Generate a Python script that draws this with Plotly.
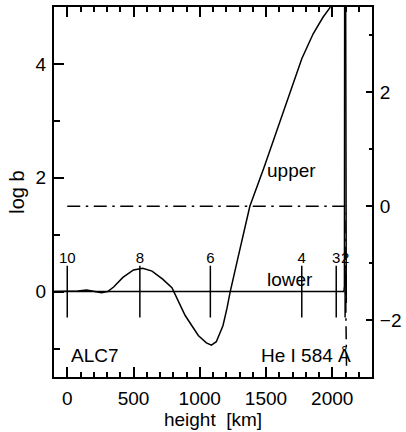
import plotly.graph_objects as go

# ---- data ----
upper_h = [-100, 0, 80, 146, 200, 258, 305, 350, 420, 500, 570, 640, 720, 790,
           890, 989, 1050, 1088, 1125, 1175, 1205, 1230, 1286, 1361, 1378, 1485,
           1608, 1683, 1770, 1856, 1930, 1980, 2040, 2100, 2106]
upper_b = [0.0, 0.0, 0.01, 0.03, 0.01, -0.02, 0.0, 0.08, 0.25, 0.38, 0.41, 0.36,
           0.22, 0.07, -0.42, -0.77, -0.9, -0.94, -0.88, -0.6, -0.3, 0.0, 0.57,
           1.32, 1.5, 2.18, 2.99, 3.51, 4.09, 4.53, 4.82, 4.98, 5.3, 6.5, -0.2]

lower_h = [-100, 2088, 2092, 2094]
lower_b = [0.0, 0.0, 0.1, 6.5]

ratio_h = [0, 2094, 2108]
ratio_v = [0.0, 0.0, -2.9]

tau_labels = ["10", "8", "6", "4", "3", "2"]
tau_h = [0, 548, 1080, 1770, 2030, 2097]
tau_bar_y = [0, 0, 0, 0, 0, 0]
tau_label_y = [0.57, 0.57, 0.57, 0.57, 0.57, 0.57]

FONT = "Liberation Sans, Arial, Helvetica, sans-serif"
BLACK = "#000000"

fig = go.Figure()

fig.add_trace(go.Scatter(x=upper_h, y=upper_b, mode="lines",
                         line=dict(color=BLACK, width=1.5), name="upper",
                         showlegend=False))
fig.add_trace(go.Scatter(x=lower_h, y=lower_b, mode="lines",
                         line=dict(color=BLACK, width=1.5), name="lower",
                         showlegend=False))
fig.add_trace(go.Scatter(x=ratio_h, y=ratio_v, mode="lines", yaxis="y2",
                         line=dict(color=BLACK, width=1.5,
                                   dash="13px,5.5px,2.5px,5.5px"),
                         name="ratio", showlegend=False))
fig.add_trace(go.Scatter(x=tau_h, y=tau_bar_y, mode="markers",
                         marker=dict(symbol="line-ns-open", size=37,
                                     color=BLACK,
                                     line=dict(color=BLACK, width=1.5)),
                         showlegend=False, hoverinfo="x"))
fig.add_trace(go.Scatter(x=tau_h, y=tau_label_y, mode="text", text=tau_labels,
                         textfont=dict(family=FONT, size=15, color=BLACK),
                         showlegend=False, hoverinfo="skip"))

annots = [
    dict(x=1494, y=2.12, text="upper", xanchor="left", yanchor="middle", size=19),
    dict(x=1494, y=0.22, text="lower", xanchor="left", yanchor="middle", size=19),
    dict(x=15, y=-1.12, text="ALC7", xanchor="left", yanchor="middle", size=19),
    dict(x=2160, y=-1.12, text="He I 584 Å", xanchor="right", yanchor="middle", size=19),
]

fig.update_layout(
    width=406, height=432, autosize=False,
    margin=dict(l=54, r=29, t=5, b=55, pad=0),
    paper_bgcolor="white", plot_bgcolor="white",
    font=dict(family=FONT, size=19, color=BLACK),
    xaxis=dict(range=[-100, 2300], showgrid=False, zeroline=False,
               showline=True, linecolor=BLACK, linewidth=2, mirror="ticks",
               ticks="inside", ticklen=10, tickwidth=1.5, tickcolor=BLACK,
               tick0=0, dtick=500, ticklabelstandoff=3,
               minor=dict(ticks="inside", ticklen=5, tickwidth=1.5,
                          tickcolor=BLACK, dtick=100, tick0=0, showgrid=False),
               title=dict(text="height  [km]", standoff=1,
                          font=dict(size=19))),
    yaxis=dict(range=[-1.5, 5], showgrid=False, zeroline=False,
               showline=True, linecolor=BLACK, linewidth=2, mirror=False,
               ticks="inside", ticklen=10, tickwidth=1.5, tickcolor=BLACK,
               tick0=0, dtick=2, ticklabelstandoff=2,
               minor=dict(ticks="inside", ticklen=6, tickwidth=1.5,
                          tickcolor=BLACK, dtick=1, tick0=0, showgrid=False),
               title=dict(text="log b", standoff=6, font=dict(size=20))),
    yaxis2=dict(range=[-3, 3.5], overlaying="y", side="right",
                showgrid=False, zeroline=False, showline=True,
                linecolor=BLACK, linewidth=2,
                ticks="inside", ticklen=6, tickwidth=1.5, tickcolor=BLACK,
                tick0=0, dtick=2, ticklabelstandoff=2,
                minor=dict(ticks="inside", ticklen=3, tickwidth=1.5,
                           tickcolor=BLACK, dtick=1, tick0=0, showgrid=False)),
    annotations=[dict(x=a["x"], y=a["y"], text=a["text"], xref="x", yref="y",
                      xanchor=a["xanchor"], yanchor=a["yanchor"],
                      showarrow=False,
                      font=dict(family=FONT, size=a["size"], color=BLACK))
                 for a in annots],
)

fig.write_html("out.html",
               config={"displayModeBar": False},
               post_script="document.body.style.margin='0px';")
